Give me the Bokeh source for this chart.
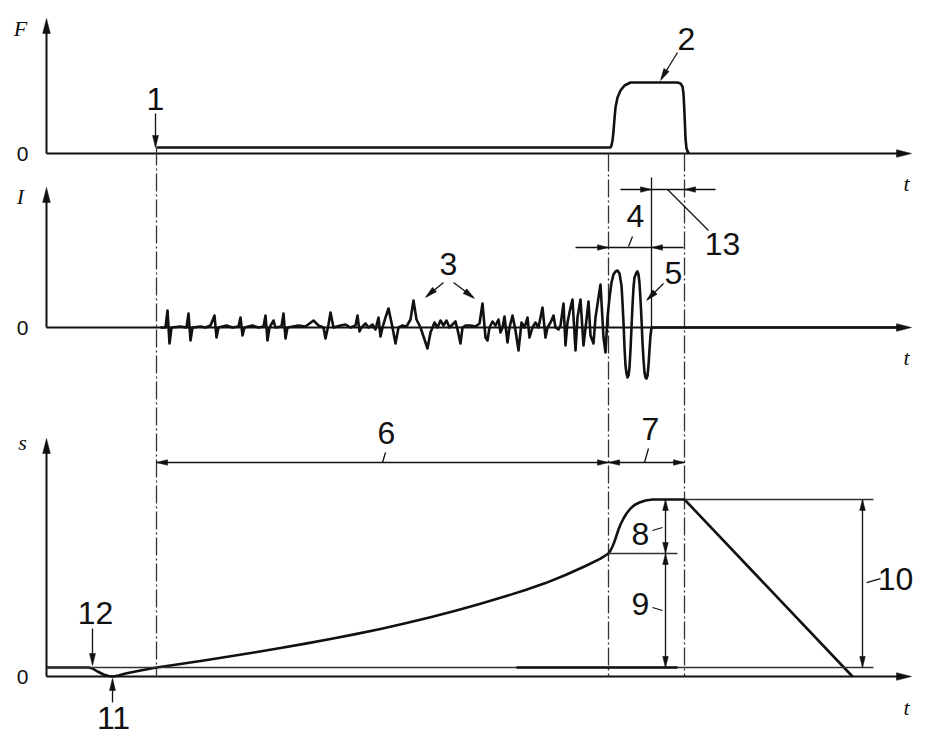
from bokeh.plotting import figure
from bokeh.models import Range1d
from bokeh.embed import file_html
from bokeh.resources import INLINE
from bokeh.core.properties import value

# ---------------- data (schematic values; t in drawing units) ----------------
# key instants on the time axis
T_AXIS = 46        # origin of time axis
T_END_AXIS = 911   # arrow tip of time axis
T_START = 156      # 1 - start of flashing / force
T_UPSET = 608      # start of upset
T_CUT = 651        # current cut-off
T_END = 684        # end of upset
T_RETURN = 852     # platen back at zero

# panel baselines (y of the zero line) and axis tops
F_BASE, I_BASE, S_BASE = 153, 327, 676
F_TOP, I_TOP, S_TOP = 18, 187, 438

# F(t): force
F_T = [156, 610, 611, 612, 613, 614, 615, 617, 620, 624, 630, 677, 680, 682, 683, 684, 685, 686, 688]
F_V = [6, 6, 8, 13, 22, 35, 46, 56, 63, 68, 71, 71, 70, 67, 60, 40, 15, 5, 0]

# I(t): current (flashing noise, then upset current)
I_T = [160, 165, 167, 169, 171, 180, 186, 188, 190, 192, 200, 205, 210, 214, 216, 218, 226, 232,
       238, 240, 242, 244, 252, 258, 263, 265, 267, 269, 273, 275, 281, 283, 285, 287, 298, 305,
       313, 318, 323, 325, 328, 330, 333, 340, 345, 350, 355, 357, 359, 361, 365, 368, 372, 375,
       378, 380, 382, 385, 388, 392, 395, 398, 402, 406, 410, 413, 416, 420, 424, 427, 430, 434,
       437, 440, 443, 446, 449, 452, 455, 457, 460, 462, 465, 470, 475, 479, 482, 485, 487, 489,
       492, 495, 498, 500, 502, 504, 507, 509, 512, 515, 518, 521, 524, 527, 529, 532, 535, 538,
       542, 545, 547, 550, 553, 555, 558, 560, 563, 565, 567, 570, 572, 575, 577, 580, 583, 586,
       588, 590, 593, 595, 598, 600, 603, 605, 607, 609, 611, 613, 615, 617, 619, 621, 622, 623,
       624, 625, 626, 627, 628, 629, 630, 631, 632, 633, 634, 636, 637, 638, 639, 640, 641, 642,
       643, 644, 645, 646, 647, 648, 649, 650, 651, 900]
I_V = [0, 0, 17, -16, 0, 1, 0, 14, -13, 0, 1, 0, 2, 12, -10, 0, 2, 0,
       1, 10, -8, 0, 2, 0, 1, 12, -13, 0, 7, 0, 1, 14, -11, 0, 2, 1,
       7, 2, 0, -11, 3, 15, 0, 2, 3, 0, 2, 12, -4, 0, 4, 0, 3, -2,
       10, -9, 0, 10, 19, 0, -16, 0, 2, 1, 8, 27, 8, 0, -12, -21, -5, 5,
       0, 7, 2, 7, 0, 3, 6, -2, -16, 0, 2, 2, 1, 4, 24, -10, -13, 0,
       6, 2, 8, -5, 0, 11, -15, 0, 12, -3, -23, 5, 0, 10, -10, 0, 5, 0,
       20, -10, 0, 5, 12, 0, -2, 2, 24, -18, 5, 20, 28, -23, 10, 28, -18, 8,
       26, -8, -16, 10, 30, 43, -10, -25, 10, 30, 45, 53, 56, 57, 54, 42, 25, 5,
       -20, -38, -46, -50, -48, -40, -22, 0, 22, 40, 50, 55, 56, 53, 44, 28, 8, -15,
       -32, -45, -50, -51, -48, -38, -22, -8, 0, 0]

# s(t): platen displacement
S_T = [46, 88, 92, 97, 103, 108, 113, 118, 125, 140, 156, 180, 205, 230, 255, 280, 305, 330,
       355, 380, 405, 430, 455, 480, 505, 525, 545, 565, 585, 600, 608, 610, 612, 614, 616,
       618, 620, 623, 626, 630, 634, 639, 645, 652, 684, 852]
S_V = [9, 9, 8, 5, 2, 0.5, 0, 1, 3, 6, 9, 12.5, 16.3, 20.2, 24.3, 28.5, 32.9, 37.5,
       42.4, 47.6, 53.2, 59.2, 65.7, 72.7, 80.2, 86.6, 93.4, 101.5, 110.5, 117.8, 123, 126, 130, 135, 141,
       147, 152, 158, 163, 168, 171.5, 174, 176, 177, 177, 0]
S_REF = 9          # reference level (initial position)
S_MID = 123        # displacement at start of upset
S_MAX = 177        # final displacement

# ---------------- figure ----------------
W, H = 914, 734
p = figure(width=W, height=H, x_range=Range1d(0, W), y_range=Range1d(H, 0),
           output_backend="svg", toolbar_location=None, x_axis_type=None, y_axis_type=None,
           min_border=0)
p.min_border_left = p.min_border_right = p.min_border_top = p.min_border_bottom = 0
p.grid.visible = False
p.outline_line_color = None
p.background_fill_color = "white"
p.border_fill_color = "white"

for name, base in (("F", F_BASE), ("I", I_BASE), ("S", S_BASE)):
    p.extra_y_ranges[name] = Range1d(start=base - H, end=base)

INK = "#111111"
GREY = "#333333"


def head(tx, ty, dx, dy, L=12, w=3.2):
    n = (dx * dx + dy * dy) ** 0.5
    ux, uy = dx / n, dy / n
    bx, by = tx - ux * L, ty - uy * L
    px, py = -uy * w, ux * w
    return [tx, bx + px, bx - px], [ty, by + py, by - py]


heads_x, heads_y = [], []


def add_head(tx, ty, dx, dy, L=12, w=3.2):
    hx, hy = head(tx, ty, dx, dy, L, w)
    heads_x.append(hx)
    heads_y.append(hy)


# axes
bases = [F_BASE, I_BASE, S_BASE]
tops = [F_TOP, I_TOP, S_TOP]
p.segment(x0=[T_AXIS] * 3, y0=bases, x1=[T_AXIS] * 3, y1=[t + 8 for t in tops], line_width=2, line_color=INK)
p.segment(x0=[T_AXIS] * 3, y0=bases, x1=[T_END_AXIS - 8] * 3, y1=bases, line_width=2, line_color=INK)
for b, t in zip(bases, tops):
    add_head(T_AXIS, t, 0, -1, L=15, w=3.8)
    add_head(T_END_AXIS, b, 1, 0, L=15, w=3.8)

# dash-dot construction lines
p.segment(x0=[T_START, T_UPSET, T_END], y0=[F_BASE - 6, F_BASE, F_BASE],
          x1=[T_START, T_UPSET, T_END], y1=[S_BASE, S_BASE, S_BASE],
          line_width=1.3, line_color=GREY, line_dash="18 3 2 3")
# current cut-off line
p.segment(x0=[T_CUT], y0=[177], x1=[T_CUT], y1=[I_BASE], line_width=1.3, line_color=INK)

# signals
p.line(F_T, F_V, y_range_name="F", line_width=2.6, line_color=INK, line_join="round")
p.line(I_T, I_V, y_range_name="I", line_width=2.6, line_color=INK, line_join="round")
p.line(S_T, S_V, y_range_name="S", line_width=2.6, line_color=INK, line_join="round")

# s reference lines
p.segment(x0=[T_AXIS, T_END, T_UPSET], y0=[S_REF, S_MAX, S_MID], x1=[873, 873, 677], y1=[S_REF, S_MAX, S_MID],
          y_range_name="S", line_width=1.3, line_color=GREY)
p.segment(x0=[516], y0=[S_REF], x1=[677], y1=[S_REF], y_range_name="S", line_width=2.4, line_color=INK)

# dimension lines
dim_x0 = [620, 575, 156, 608, 665, 665, 862]
dim_y0 = [189, 247, 462, 462, 499, 553, 499]
dim_x1 = [715, 683, 608, 684, 665, 665, 862]
dim_y1 = [189, 247, 462, 462, 553, 667, 667]
p.segment(x0=dim_x0, y0=dim_y0, x1=dim_x1, y1=dim_y1, line_width=1.3, line_color=INK)

# dimension arrow heads
add_head(T_CUT, 189, 1, 0, L=11, w=2.8)
add_head(T_END, 189, -1, 0, L=11, w=2.8)
add_head(T_UPSET, 247, 1, 0, L=11, w=2.8)
add_head(T_CUT, 247, -1, 0, L=11, w=2.8)
add_head(T_START, 462, -1, 0, L=11, w=2.8)
add_head(T_UPSET, 462, 1, 0, L=11, w=2.8)
add_head(T_UPSET, 462, -1, 0, L=11, w=2.8)
add_head(T_END, 462, 1, 0, L=11, w=2.8)
add_head(665, 499, 0, -1, L=11, w=2.8)
add_head(665, 553, 0, 1, L=11, w=2.8)
add_head(665, 553, 0, -1, L=11, w=2.8)
add_head(665, 667, 0, 1, L=11, w=2.8)
add_head(862, 499, 0, -1, L=11, w=2.8)
add_head(862, 667, 0, 1, L=11, w=2.8)

# leaders / pointer arrows
lead_x0 = [155, 677, 443, 453, 663, 667, 628, 382, 644, 652, 652, 866, 92, 112]
lead_y0 = [113, 52, 282, 282, 283, 189, 246, 462, 462, 530, 607, 582, 628, 702]
lead_x1 = [155, 661, 426, 473, 647, 708, 632, 385, 648, 662, 662, 880, 92, 112]
lead_y1 = [146, 78, 296, 297, 299, 230, 236, 452, 448, 527, 610, 578, 663, 679]
p.segment(x0=lead_x0, y0=lead_y0, x1=lead_x1, y1=lead_y1, line_width=1.3, line_color=INK)
add_head(155, 147, 0, 1, L=12, w=3)
add_head(660, 80, -16, 28, L=12, w=3)
add_head(425, 297, -17, 15, L=12, w=3)
add_head(474, 298, 21, 16, L=12, w=3)
add_head(646, 300, -17, 17, L=12, w=3)
add_head(92, 665, 0, 1, L=12, w=3)
add_head(112, 678, 0, -1, L=12, w=3)

p.patches(heads_x, heads_y, fill_color=INK, line_color=INK, line_width=0.5)

# labels
NUM_TXT = ["1", "2", "3", "4", "5", "13", "6", "7", "8", "9", "10", "12", "11"]
NUM_X = [155, 686, 448, 635, 673, 722, 386, 650, 640, 640, 895, 95, 113]
NUM_Y = [98, 38, 263, 215, 272, 243, 432, 428, 533, 603, 578, 612, 717]
p.text(x=NUM_X, y=NUM_Y, text=NUM_TXT, text_font=value("Liberation Sans"), text_font_size="32px",
       text_align="center", text_baseline="middle", text_color=INK)

ZERO_X = [22, 22, 22]
p.text(x=ZERO_X, y=bases, text=["0", "0", "0"], text_font=value("Liberation Sans"), text_font_size="21px",
       text_align="center", text_baseline="middle", text_color=INK)

AX_TXT = ["F", "I", "s", "t", "t", "t"]
AX_X = [20, 20, 22, 906, 906, 906]
AX_Y = [28, 196, 442, 183, 357, 707]
p.text(x=AX_X, y=AX_Y, text=AX_TXT, text_font=value("Liberation Serif"), text_font_style="italic",
       text_font_size="22px", text_align="center", text_baseline="middle", text_color=INK)

open("out.html", "w").write(file_html(p, INLINE))
